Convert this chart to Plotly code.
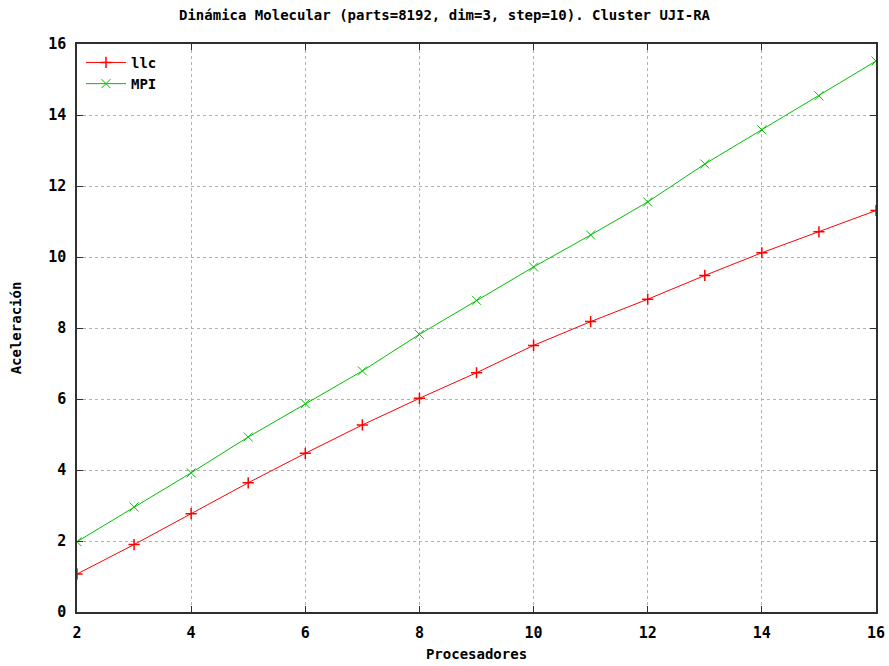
import plotly.graph_objects as go

procesadores = [2, 3, 4, 5, 6, 7, 8, 9, 10, 11, 12, 13, 14, 15, 16]
llc = [1.07, 1.90, 2.77, 3.64, 4.47, 5.27, 6.02, 6.74, 7.51, 8.18, 8.81, 9.48, 10.12, 10.71, 11.31]
mpi = [1.98, 2.96, 3.92, 4.93, 5.87, 6.79, 7.82, 8.78, 9.72, 10.62, 11.55, 12.62, 13.58, 14.54, 15.52]

xticks = [2, 4, 6, 8, 10, 12, 14, 16]
yticks = [0, 2, 4, 6, 8, 10, 12, 14, 16]

font = "DejaVu Sans Mono"

fig = go.Figure()
fig.add_trace(go.Scatter(
    x=procesadores, y=llc, name="llc", mode="lines+markers",
    line=dict(color="#ff0000", width=1),
    marker=dict(symbol="cross-thin", size=8, line=dict(color="#ff0000", width=1.5)),
))
fig.add_trace(go.Scatter(
    x=procesadores, y=mpi, name="MPI", mode="lines+markers",
    line=dict(color="#00c000", width=1),
    marker=dict(symbol="x-thin", size=9, line=dict(color="#00c000", width=1)),
))

axis_common = dict(
    showline=True, linecolor="#303030", linewidth=1.5, mirror="ticks",
    ticks="inside", ticklen=6, tickcolor="#303030", tickwidth=1,
    showgrid=True, gridcolor="#b0b0b0", griddash="dot", gridwidth=1,
    zeroline=False, automargin=False,
    tickfont=dict(family=font, size=15, color="#000000", weight="bold"),
)

fig.update_layout(
    width=889, height=666,
    margin=dict(l=77, r=13, t=44, b=54),
    paper_bgcolor="white", plot_bgcolor="white",
    title=dict(text="Dinámica Molecular (parts=8192, dim=3, step=10). Cluster UJI-RA",
               x=0.5, xanchor="center", y=0.977, yanchor="middle",
               font=dict(family=font, size=14, color="#000000", weight="bold")),
    xaxis=dict(range=[2, 16], tickvals=xticks, ticklabelstandoff=6, **axis_common,
               title=dict(text="Procesadores", standoff=8,
                          font=dict(family=font, size=14, color="#000000", weight="bold"))),
    yaxis=dict(range=[0, 16], tickvals=yticks, ticklabelstandoff=6, **axis_common,
               title=dict(text="Aceleración", standoff=23,
                          font=dict(family=font, size=14, color="#000000", weight="bold"))),
    legend=dict(x=0.005, y=0.995, xanchor="left", yanchor="top",
                bgcolor="rgba(0,0,0,0)", borderwidth=0,
                font=dict(family=font, size=14, color="#000000", weight="bold"),
                tracegroupgap=0, itemwidth=40),
    showlegend=True,
)

fig.write_html("out.html")
